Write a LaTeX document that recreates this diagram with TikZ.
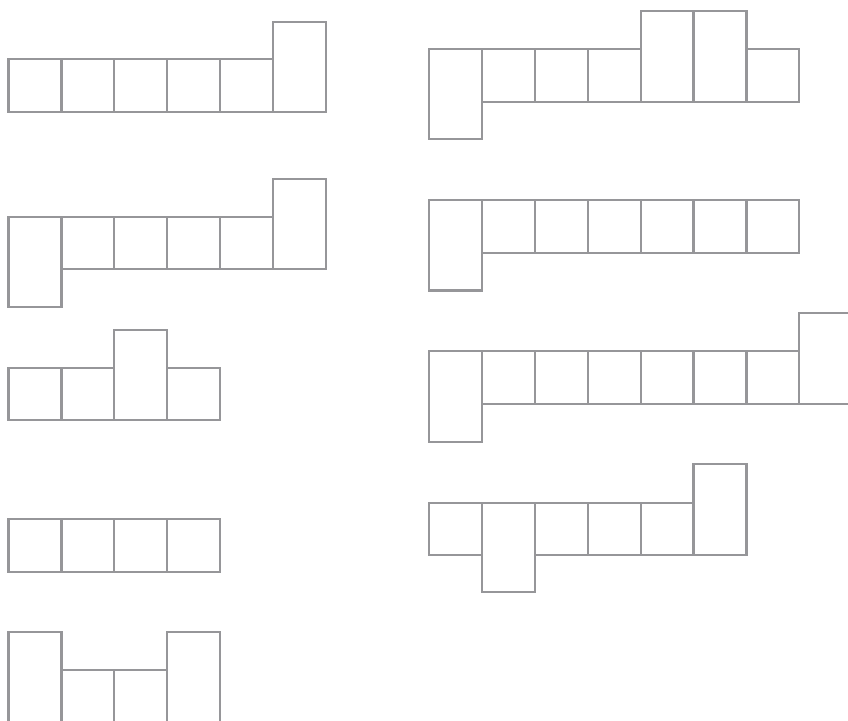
\documentclass[tikz,border=0pt]{standalone}
\definecolor{cellgray}{RGB}{150,150,153}
\tikzset{cell/.style={draw=cellgray, line width=2.2pt, fill=none}}
\begin{document}
\begin{tikzpicture}[x=1pt,y=-1pt]
\clip (0,0) rectangle (848,720);
\fill[white] (0,0) rectangle (848,720);
% left column
\def\LX{8.5}\def\RX{429}\def\W{52.9}
% L row 1
\foreach \k in {0,...,4} \draw[cell] ({\LX+\k*\W},59.3) rectangle ++(\W,52.4);
\draw[cell] ({\LX+5*\W},21.7) rectangle ({\LX+6*\W},111.7);
% L row 2
\draw[cell] (\LX,216.7) rectangle ({\LX+\W},306.7);
\foreach \k in {1,...,4} \draw[cell] ({\LX+\k*\W},216.7) rectangle ++(\W,52.4);
\draw[cell] ({\LX+5*\W},179) rectangle ({\LX+6*\W},269.1);
% L row 3
\foreach \k in {0,1,3} \draw[cell] ({\LX+\k*\W},367.7) rectangle ++(\W,52.4);
\draw[cell] ({\LX+2*\W},330) rectangle ({\LX+3*\W},420.1);
% L row 4
\foreach \k in {0,...,3} \draw[cell] ({\LX+\k*\W},519.2) rectangle ++(\W,52.4);
% L row 5
\foreach \k in {0,3} \draw[cell] ({\LX+\k*\W},632.3) rectangle ++(\W,90);
\foreach \k in {1,2} \draw[cell] ({\LX+\k*\W},670) rectangle ++(\W,52.4);
% R row 1
\draw[cell] (\RX,49) rectangle ({\RX+\W},139.3);
\foreach \k in {1,2,3,6} \draw[cell] ({\RX+\k*\W},49) rectangle ++(\W,52.6);
\foreach \k in {4,5} \draw[cell] ({\RX+\k*\W},11) rectangle ++(\W,90.6);
% R row 2
\draw[cell] (\RX,200) rectangle ({\RX+\W},290.5);
\foreach \k in {1,...,6} \draw[cell] ({\RX+\k*\W},200) rectangle ++(\W,52.6);
% R row 3
\draw[cell] (\RX,351) rectangle ({\RX+\W},442.3);
\foreach \k in {1,...,6} \draw[cell] ({\RX+\k*\W},351) rectangle ++(\W,53.3);
\draw[cell] ({\RX+7*\W},313.3) rectangle ({\RX+8*\W},404.3);
% R row 4
\foreach \k in {0,2,3,4} \draw[cell] ({\RX+\k*\W},502.7) rectangle ++(\W,52.4);
\draw[cell] ({\RX+\W},502.7) rectangle ({\RX+2*\W},592.3);
\draw[cell] ({\RX+5*\W},464.3) rectangle ({\RX+6*\W},555.1);
\end{tikzpicture}
\end{document}
